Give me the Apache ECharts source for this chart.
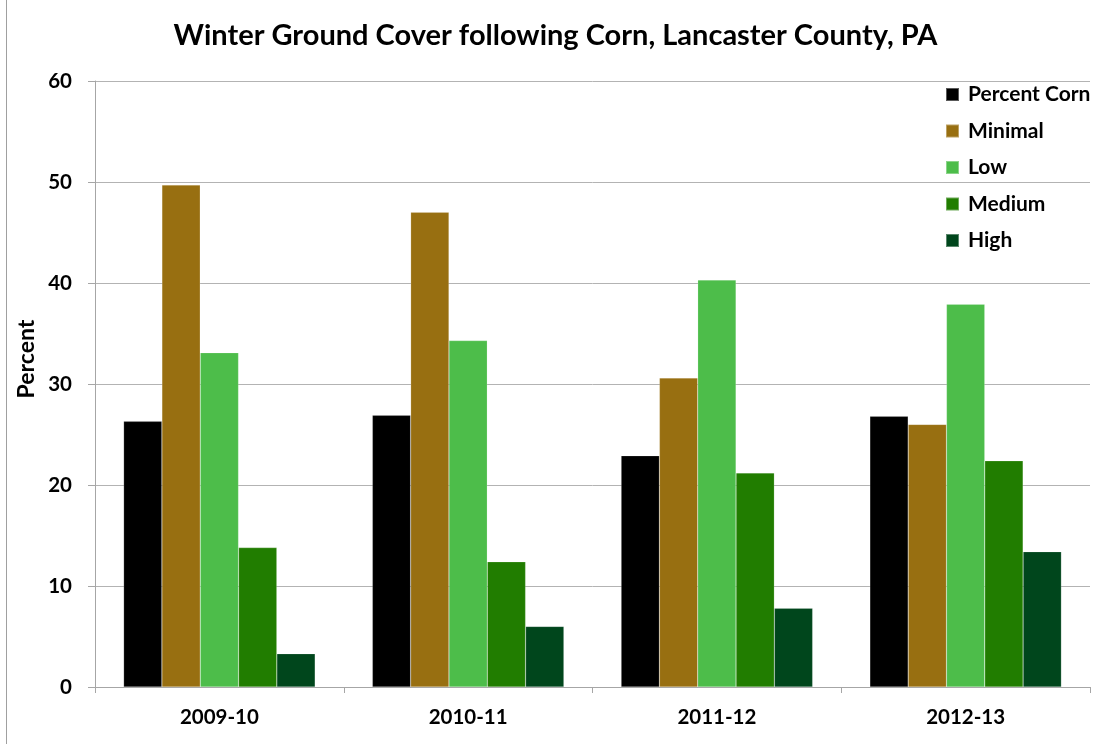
<!DOCTYPE html>
<html>
<head>
<meta charset="utf-8">
<script src="https://cdn.jsdelivr.net/npm/echarts@6/dist/echarts.min.js"></script>
<style>
  html, body { margin: 0; padding: 0; background: #ffffff; }
  #chart { width: 1111px; height: 744px; }
</style>
</head>
<body>
<div id="chart"></div>
<script>
// Winter ground cover classes after corn harvest, by season
const seasons = ['2009-10', '2010-11', '2011-12', '2012-13'];
const percentCorn = [26.3, 26.9, 22.9, 26.8];
const minimal = [49.7, 47.0, 30.6, 26.0];
const low = [33.1, 34.3, 40.3, 37.9];
const medium = [13.8, 12.4, 21.2, 22.4];
const high = [3.3, 6.0, 7.8, 13.4];

const seriesDefs = [
  { name: 'Percent Corn', data: percentCorn, color: '#000000' },
  { name: 'Minimal', data: minimal, color: '#986f11' },
  { name: 'Low', data: low, color: '#4dbd4a' },
  { name: 'Medium', data: medium, color: '#217d00' },
  { name: 'High', data: high, color: '#00461c' }
];

const FONT = 'Lato, "Liberation Sans", sans-serif';
const chart = echarts.init(document.getElementById('chart'), null, { renderer: 'canvas' });

chart.setOption({
  backgroundColor: '#ffffff',
  animation: false,
  title: {
    text: 'Winter Ground Cover following Corn, Lancaster County, PA',
    left: 'center',
    top: 18,
    padding: 0,
    textStyle: { fontFamily: FONT, fontWeight: 'bold', fontSize: 29, lineHeight: 36, color: '#000' }
  },
  legend: {
    orient: 'vertical',
    left: 945,
    top: 84,
    padding: 0,
    itemWidth: 13,
    itemHeight: 13,
    itemGap: 15.5,
    icon: 'rect',
    textStyle: { fontFamily: FONT, fontWeight: 'bold', fontSize: 21, lineHeight: 21, color: '#000', padding: [0, 0, 0, 4] },
    data: seriesDefs.map(s => s.name)
  },
  grid: { left: 95, right: 21, top: 81, bottom: 57, containLabel: false },
  xAxis: {
    type: 'category',
    data: seasons,
    axisLine: { show: true, lineStyle: { color: '#a6a6a6', width: 1 } },
    axisTick: { show: true, length: 6, lineStyle: { color: '#a6a6a6' } },
    axisLabel: { fontFamily: FONT, fontWeight: 'bold', fontSize: 20.5, color: '#000', margin: 20 }
  },
  yAxis: {
    type: 'value',
    min: 0,
    max: 60,
    interval: 10,
    axisLine: { show: true, lineStyle: { color: '#a6a6a6', width: 1 } },
    axisTick: { show: true, length: 7, lineStyle: { color: '#a6a6a6' } },
    axisLabel: { fontFamily: FONT, fontWeight: 'bold', fontSize: 20.5, color: '#000', margin: 23 },
    splitLine: { show: true, lineStyle: { color: '#b3b3b3', width: 1 } }
  },
  series: seriesDefs.map(s => ({
    name: s.name,
    type: 'bar',
    data: s.data,
    barGap: '0%',
    barCategoryGap: '23%',
    itemStyle: { color: s.color, borderColor: 'rgba(255,255,255,0.35)', borderWidth: 0.5 }
  })),
  graphic: [
    {
      type: 'line',
      shape: { x1: 6.5, y1: 0, x2: 6.5, y2: 744 },
      style: { stroke: '#a0a0a0', lineWidth: 1 }
    },
    {
      // vertical value-axis title
      type: 'text',
      x: 27,
      y: 359,
      rotation: Math.PI / 2,
      style: {
        text: 'Percent',
        fill: '#000',
        font: 'bold 23px ' + FONT,
        textAlign: 'center',
        textVerticalAlign: 'middle'
      }
    }
  ]
});
</script>
</body>
</html>
